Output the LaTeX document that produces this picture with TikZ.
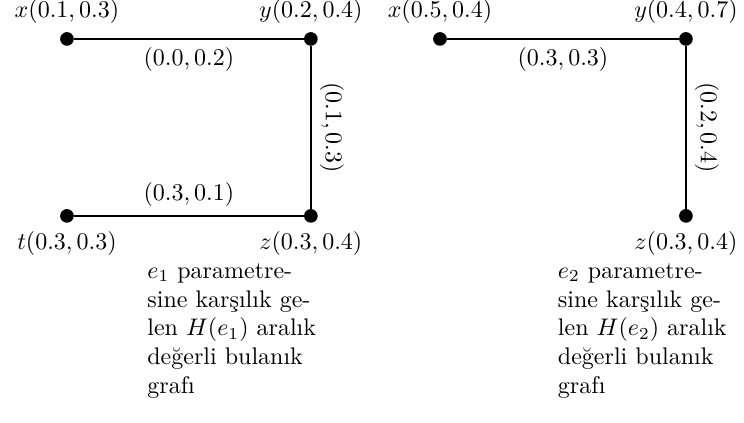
\documentclass[tikz,border=0pt]{standalone}
\usepackage{amsmath}
\usepackage{tikz}
\usetikzlibrary{positioning}

\tikzset{
  vertex/.style={circle,fill=black,inner sep=0pt,minimum size=0.2cm},
  edge/.style={thick},
  caption/.style={anchor=north west,inner sep=0pt,align=left}
}

\begin{document}
\begin{tikzpicture}
\useasboundingbox (0,0) rectangle (10.89,6.18);
% graph for e1
\node[vertex,label=above:{$x(0.1,0.3)$}] (x1) at (0.98,5.61) {};
\node[vertex,label=above:{$y(0.2,0.4)$}] (y1) at (4.55,5.61) {};
\node[vertex,label=below:{$z(0.3,0.4)$}] (z1) at (4.55,3.02) {};
\node[vertex,label=below:{$t(0.3,0.3)$}] (t1) at (0.98,3.02) {};
\draw[edge] (x1) -- node[below] {$(0.0,0.2)$} (y1);
\draw[edge] (y1) -- node[sloped,above] {$(0.1,0.3)$} (z1);
\draw[edge] (t1) -- node[above] {$(0.3,0.1)$} (z1);
\node[caption] (cap1) at (2.15,2.33) {$e_1$ parametre-\\sine karşılık ge-\\len $H(e_1)$ aralık\\değerli bulanık\\grafı};
% graph for e2
\node[vertex,label=above:{$x(0.5,0.4)$}] (x2) at (6.44,5.61) {};
\node[vertex,label=above:{$y(0.4,0.7)$}] (y2) at (10.04,5.61) {};
\node[vertex,label=below:{$z(0.3,0.4)$}] (z2) at (10.04,3.02) {};
\draw[edge] (x2) -- node[below] {$(0.3,0.3)$} (y2);
\draw[edge] (y2) -- node[sloped,above] {$(0.2,0.4)$} (z2);
\node[caption] (cap2) at (8.16,2.33) {$e_2$ parametre-\\sine karşılık ge-\\len $H(e_2)$ aralık\\değerli bulanık\\grafı};
\end{tikzpicture}
\end{document}
